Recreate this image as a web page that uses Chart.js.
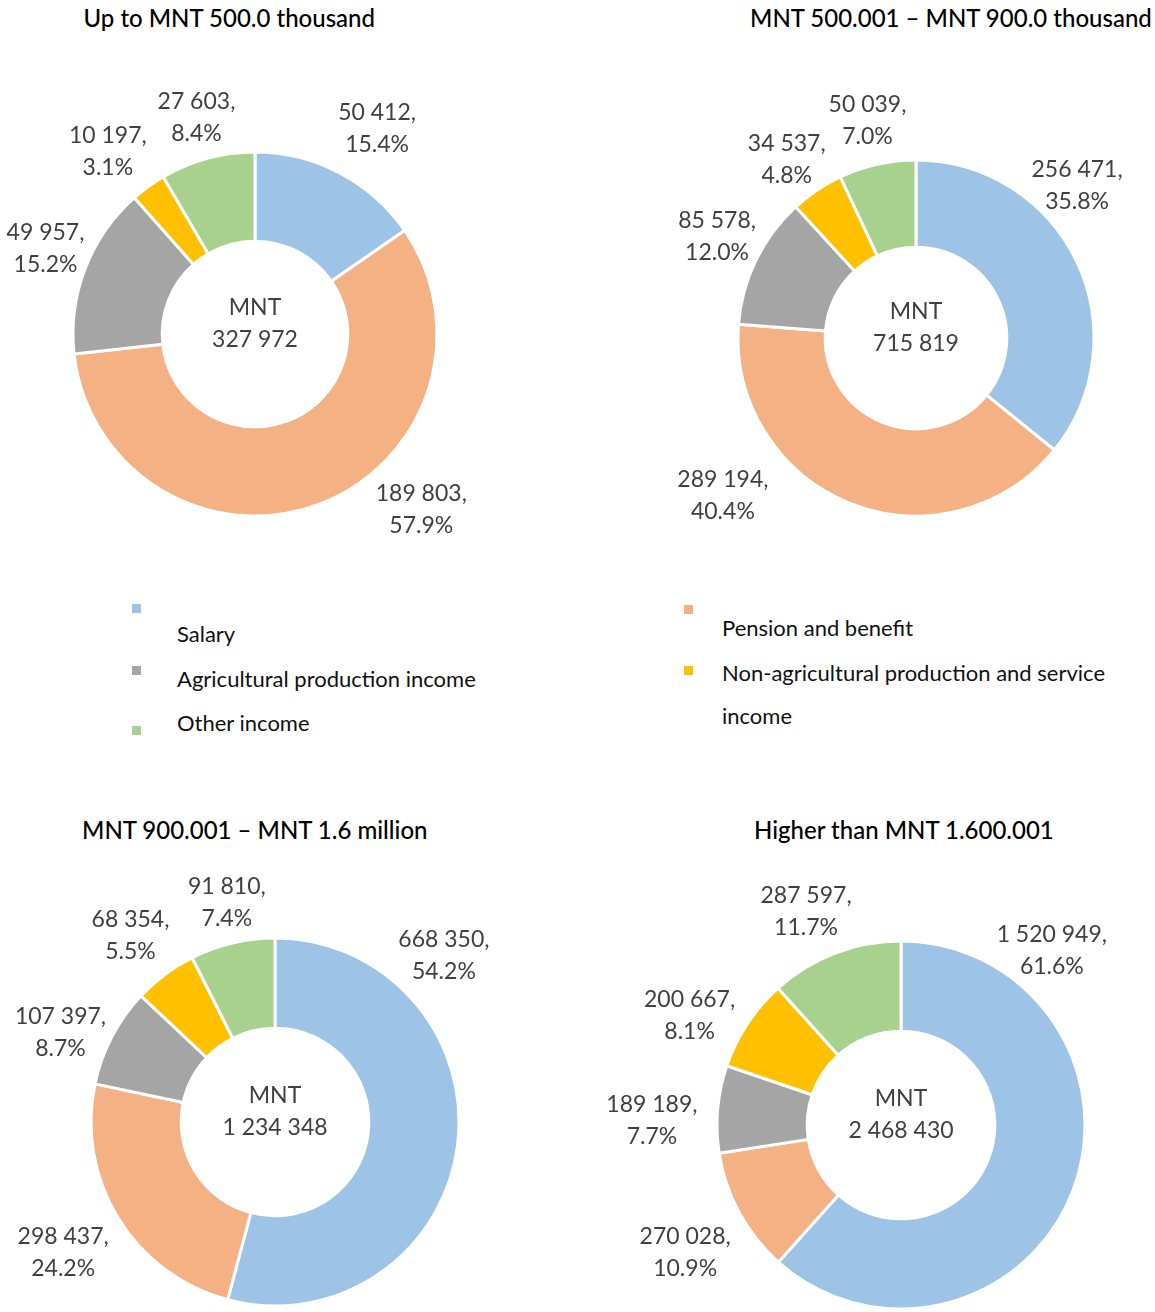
<!DOCTYPE html>
<html>
<head>
<meta charset="utf-8">
<script src="https://cdn.jsdelivr.net/npm/chart.js@4.4.0/dist/chart.umd.min.js"></script>
<style>
  body { margin: 0; width: 1155px; height: 1312px; position: relative; overflow: hidden; background: #fff; font-family: Lato, "Open Sans", sans-serif; }
  canvas { position: absolute; }
  .title { position: absolute; font-size: 24px; font-weight: 500; color: #000; white-space: nowrap; line-height: 30px; }
  .sw { position: absolute; width: 9px; height: 9px; }
  .lg { position: absolute; font-size: 22px; color: #111; white-space: nowrap; line-height: 30px; }
</style>
</head>
<body>
<div id="titles"></div>
<div id="legend"></div>
<script>
const categories = ['Salary', 'Pension and benefit', 'Agricultural production income',
  'Non-agricultural production and service income', 'Other income'];
const titles = ['Up to MNT 500.0 thousand', 'MNT 500.001 \u2013 MNT 900.0 thousand',
  'MNT 900.001 \u2013 MNT 1.6 million', 'Higher than MNT 1.600.001'];

const upTo500 = [50412, 189803, 49957, 10197, 27603];
const from500To900 = [256471, 289194, 85578, 34537, 50039];
const from900To1600 = [668350, 298437, 107397, 68354, 91810];
const above1600 = [1520949, 270028, 189189, 200667, 287597];

// shares as printed in the source
const sharesUpTo500 = ['15.4%', '57.9%', '15.2%', '3.1%', '8.4%'];
const shares500To900 = ['35.8%', '40.4%', '12.0%', '4.8%', '7.0%'];
const shares900To1600 = ['54.2%', '24.2%', '8.7%', '5.5%', '7.4%'];
const sharesAbove1600 = ['61.6%', '10.9%', '7.7%', '8.1%', '11.7%'];

const colors = ['#9dc3e6', '#f4b183', '#a5a5a5', '#ffc000', '#a9d18e'];

// where each doughnut sits; nudge = label drift from slice middle (deg), push = extra distance (px)
const panels = [
  { data: upTo500, shares: sharesUpTo500, cx: 255, cy: 334, r: 182,
    nudge: [3, -23, 1, -3, 0], push: [7, 2, -7, 0, -2] },
  { data: from500To900, shares: shares500To900, cx: 916, cy: 338, r: 178,
    nudge: [-18, 29, 1, -2, 0], push: [-14, 13, -7, -9, 2] },
  { data: from900To1600, shares: shares900To1600, cx: 275, cy: 1122, r: 184,
    nudge: [-52, 0, -5, -1, 1], push: [-5, 6, -9, 0, -2] },
  { data: above1600, shares: sharesAbove1600, cx: 901, cy: 1125, r: 184,
    nudge: [-70, -2, -4, -6, -3], push: [-17, 8, 16, -4, -1] }
];
const titlePos = [[229, 18, 'center'], [1152, 18, 'right'], [255, 830, 'center'], [904, 830, 'center']];

const LABEL_FONT = '23px Lato';
const LINE = 32;
const GAP = 3;
const SIZE = 680;

function fmt(n) {
  return String(n).replace(/\B(?=(\d{3})+(?!\d))/g, ' ');
}

const outsideLabels = {
  id: 'outsideLabels',
  afterDatasetsDraw(chart, args, opts) {
    const ctx = chart.ctx;
    const meta = chart.getDatasetMeta(0);
    const values = chart.data.datasets[0].data;
    const total = values.reduce((a, b) => a + b, 0);
    ctx.save();
    ctx.font = LABEL_FONT;
    ctx.fillStyle = '#404040';
    ctx.textAlign = 'center';
    ctx.textBaseline = 'middle';
    let cx = 0, cy = 0;
    meta.data.forEach((arc, i) => {
      const p = arc.getProps(['x', 'y', 'startAngle', 'endAngle', 'outerRadius'], true);
      cx = p.x; cy = p.y;
      const a = (p.startAngle + p.endAngle) / 2 + opts.nudge[i] * Math.PI / 180;
      const lines = [fmt(values[i]) + ',', opts.shares[i]];
      const w = Math.max(...lines.map(l => ctx.measureText(l).width));
      const d = p.outerRadius + GAP + opts.push[i] +
        Math.abs(Math.cos(a)) * w / 2 + Math.abs(Math.sin(a)) * LINE;
      const lx = p.x + Math.cos(a) * d;
      const ly = p.y + Math.sin(a) * d;
      ctx.fillText(lines[0], lx, ly - LINE / 2);
      ctx.fillText(lines[1], lx, ly + LINE / 2);
    });
    // total in the hole
    ctx.fillText('MNT', cx, cy - 26);
    ctx.fillText(fmt(total), cx, cy + 6);
    ctx.restore();
  }
};

panels.forEach((pn, k) => {
  const cv = document.createElement('canvas');
  cv.width = SIZE; cv.height = SIZE;
  cv.style.left = (pn.cx - SIZE / 2) + 'px';
  cv.style.top = (pn.cy - SIZE / 2) + 'px';
  document.body.appendChild(cv);
  new Chart(cv, {
    type: 'doughnut',
    data: {
      labels: categories,
      datasets: [{
        data: pn.data,
        backgroundColor: colors,
        borderColor: '#fff',
        borderWidth: 3,
        hoverOffset: 0
      }]
    },
    options: {
      responsive: false,
      animation: false,
      events: [],
      radius: pn.r,
      cutout: '51%',
      layout: { padding: 0 },
      plugins: {
        legend: { display: false },
        tooltip: { enabled: false },
        outsideLabels: { nudge: pn.nudge, push: pn.push, shares: pn.shares }
      }
    },
    plugins: [outsideLabels]
  });

  const t = document.createElement('div');
  t.className = 'title';
  t.textContent = titles[k];
  document.getElementById('titles').appendChild(t);
  const [tx, ty, al] = titlePos[k];
  const w = t.offsetWidth;
  t.style.left = (al === 'center' ? tx - w / 2 : tx - w) + 'px';
  t.style.top = (ty - 15) + 'px';
});

// legend laid out the way the source document has it
const legendItems = [
  { cat: 0, sq: [132, 604], lines: [[177, 634]] },
  { cat: 2, sq: [132, 666], lines: [[177, 679]] },
  { cat: 4, sq: [132, 726], lines: [[177, 723]] },
  { cat: 1, sq: [684, 605], lines: [[722, 628]] },
  { cat: 3, sq: [684, 666], lines: [[722, 673], [722, 716]] }
];
const lg = document.getElementById('legend');
legendItems.forEach(it => {
  const s = document.createElement('div');
  s.className = 'sw';
  s.style.background = colors[it.cat];
  s.style.left = it.sq[0] + 'px';
  s.style.top = it.sq[1] + 'px';
  lg.appendChild(s);
  const name = categories[it.cat];
  const parts = it.lines.length === 2
    ? [name.slice(0, name.lastIndexOf(' ')), name.slice(name.lastIndexOf(' ') + 1)]
    : [name];
  parts.forEach((txt, j) => {
    const d = document.createElement('div');
    d.className = 'lg';
    d.textContent = txt;
    d.style.left = it.lines[j][0] + 'px';
    d.style.top = (it.lines[j][1] - 15) + 'px';
    lg.appendChild(d);
  });
});
</script>
</body>
</html>
